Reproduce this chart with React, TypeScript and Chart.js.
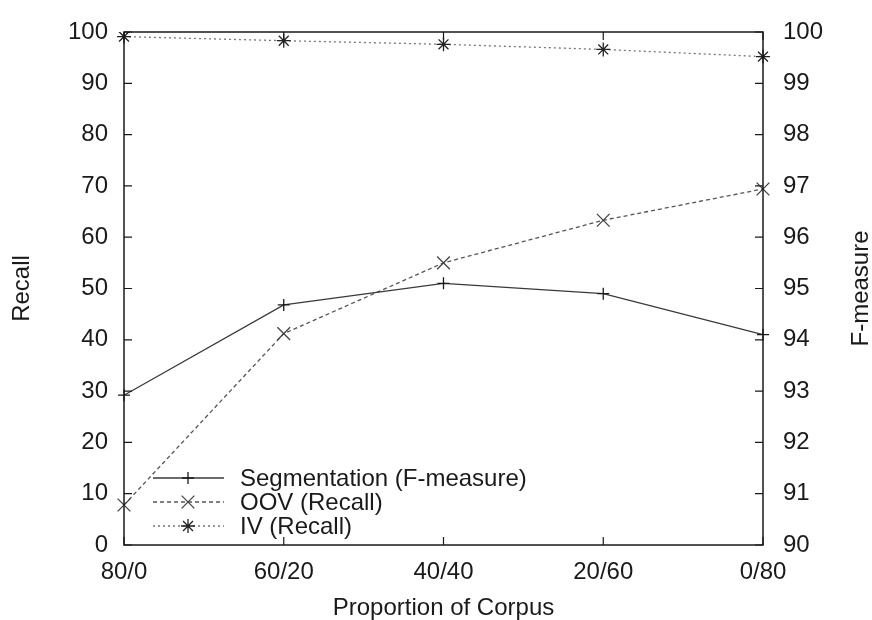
import React, { useEffect, useRef } from "react";
import { Chart, registerables } from "chart.js";

Chart.register(...registerables);

const categories = ["80/0", "60/20", "40/40", "20/60", "0/80"];
const segmentation = [92.92, 94.68, 95.1, 94.9, 94.1];
const oovRecall = [7.8, 41.2, 55.0, 63.3, 69.4];
const ivRecall = [99.1, 98.3, 97.6, 96.6, 95.2];
const seriesNames = ["Segmentation (F-measure)", "OOV (Recall)", "IV (Recall)"];
const leftTicks = [0, 10, 20, 30, 40, 50, 60, 70, 80, 90, 100];
const rightTicks = [90, 91, 92, 93, 94, 95, 96, 97, 98, 99, 100];

const FONT = "'Liberation Sans', Arial, sans-serif";
const TEXT = "#1a1a1a";

const framePlugin = {
  id: "frame",
  afterDatasetsDraw(chart: any) {
    const { ctx, chartArea } = chart;
    const { left, right, top, bottom } = chartArea;
    const x = chart.scales.x;
    const y = chart.scales.y;
    const y1 = chart.scales.y1;
    ctx.save();
    ctx.strokeStyle = "#1a1a1a";
    ctx.lineWidth = 1.5;
    ctx.setLineDash([]);
    ctx.strokeRect(left, top, right - left, bottom - top);
    ctx.lineWidth = 1.2;
    const tl = 8;
    ctx.beginPath();
    leftTicks.forEach((v) => {
      const py = y.getPixelForValue(v);
      ctx.moveTo(left, py);
      ctx.lineTo(left + tl, py);
    });
    rightTicks.forEach((v) => {
      const py = y1.getPixelForValue(v);
      ctx.moveTo(right, py);
      ctx.lineTo(right - tl, py);
    });
    categories.forEach((_, i) => {
      const px = x.getPixelForValue(i);
      ctx.moveTo(px, top);
      ctx.lineTo(px, top + tl);
      ctx.moveTo(px, bottom);
      ctx.lineTo(px, bottom - tl);
    });
    ctx.stroke();
    ctx.restore();
  },
  afterDraw(chart: any) {
    const { ctx, chartArea } = chart;
    ctx.save();
    // right axis title
    ctx.fillStyle = TEXT;
    ctx.font = `24px ${FONT}`;
    ctx.textAlign = "center";
    ctx.textBaseline = "middle";
    ctx.translate(861, (chartArea.top + chartArea.bottom) / 2);
    ctx.rotate(-Math.PI / 2);
    ctx.fillText("F-measure", 0, 0);
    ctx.restore();

    // legend
    const rows = [478, 502, 526];
    const x0 = 153;
    const x1 = 224;
    const xm = 188;
    chart.data.datasets.forEach((ds: any, i: number) => {
      const yy = rows[i];
      ctx.save();
      ctx.strokeStyle = ds.borderColor;
      ctx.lineWidth = ds.borderWidth;
      ctx.setLineDash(ds.borderDash || []);
      ctx.beginPath();
      ctx.moveTo(x0, yy);
      ctx.lineTo(x1, yy);
      ctx.stroke();
      ctx.setLineDash([]);
      ctx.strokeStyle = ds.pointBorderColor;
      ctx.lineWidth = ds.pointBorderWidth;
      const r = ds.pointRadius;
      ctx.beginPath();
      const style = ds.pointStyle;
      if (style === "cross" || style === "star") {
        ctx.moveTo(xm - r, yy);
        ctx.lineTo(xm + r, yy);
        ctx.moveTo(xm, yy - r);
        ctx.lineTo(xm, yy + r);
      }
      if (style === "crossRot" || style === "star") {
        const o = Math.cos(Math.PI / 4) * r;
        ctx.moveTo(xm - o, yy - o);
        ctx.lineTo(xm + o, yy + o);
        ctx.moveTo(xm - o, yy + o);
        ctx.lineTo(xm + o, yy - o);
      }
      ctx.stroke();
      ctx.fillStyle = TEXT;
      ctx.font = `24px ${FONT}`;
      ctx.textAlign = "left";
      ctx.textBaseline = "middle";
      ctx.fillText(seriesNames[i], 240, yy + 1);
      ctx.restore();
    });
  },
};

export default function App() {
  const canvasRef = useRef<HTMLCanvasElement | null>(null);

  useEffect(() => {
    if (!canvasRef.current) return;
    const chart = new Chart(canvasRef.current, {
      type: "line",
      data: {
        labels: categories,
        datasets: [
          {
            label: seriesNames[0],
            data: segmentation,
            yAxisID: "y1",
            borderColor: "#3a3a3a",
            borderWidth: 1.3,
            pointStyle: "cross",
            pointRadius: 6,
            pointBorderColor: "#1a1a1a",
            pointBorderWidth: 1.3,
            fill: false,
            tension: 0,
          } as any,
          {
            label: seriesNames[1],
            data: oovRecall,
            yAxisID: "y",
            borderColor: "#555555",
            borderWidth: 1.3,
            borderDash: [4, 3],
            pointStyle: "crossRot",
            pointRadius: 9,
            pointBorderColor: "#444444",
            pointBorderWidth: 1.3,
            fill: false,
            tension: 0,
          },
          {
            label: seriesNames[2],
            data: ivRecall,
            yAxisID: "y",
            borderColor: "#777777",
            borderWidth: 1.3,
            borderDash: [2, 3],
            pointStyle: "star",
            pointRadius: 7,
            pointBorderColor: "#222222",
            pointBorderWidth: 1.3,
            fill: false,
            tension: 0,
          },
        ],
      },
      options: {
        animation: false,
        responsive: true,
        maintainAspectRatio: false,
        layout: { padding: { top: 28, left: 0, right: 0, bottom: 0 } },
        plugins: {
          legend: { display: false },
          tooltip: { enabled: false },
        },
        scales: {
          x: {
            type: "category",
            offset: false,
            grid: { display: false, drawTicks: false },
            border: { display: false },
            ticks: {
              color: TEXT,
              font: { family: FONT, size: 24, lineHeight: 1 },
              padding: 15,
              maxRotation: 0,
              autoSkip: false,
            },
            title: {
              display: true,
              text: "Proportion of Corpus",
              color: TEXT,
              font: { family: FONT, size: 24, lineHeight: 1 },
              padding: 0,
            },
            afterFit: (s: any) => {
              s.height = 75;
            },
          },
          y: {
            position: "left",
            min: 0,
            max: 100,
            grid: { display: false, drawTicks: false },
            border: { display: false },
            ticks: {
              stepSize: 10,
              color: TEXT,
              font: { family: FONT, size: 24, lineHeight: 1 },
              padding: 16,
            },
            title: {
              display: true,
              text: "Recall",
              color: TEXT,
              font: { family: FONT, size: 24, lineHeight: 1 },
              padding: { top: 10, bottom: 0 },
            },
            afterFit: (s: any) => {
              s.width = 124;
            },
          },
          y1: {
            position: "right",
            min: 90,
            max: 100,
            grid: { display: false, drawTicks: false },
            border: { display: false },
            ticks: {
              stepSize: 1,
              color: TEXT,
              font: { family: FONT, size: 24, lineHeight: 1 },
              padding: 20,
            },
            afterFit: (s: any) => {
              s.width = 109;
            },
          },
        },
      } as any,
      plugins: [framePlugin],
    });
    return () => chart.destroy();
  }, []);

  return (
    <div style={{ position: "absolute", left: 0, top: 0, width: 872, height: 620, background: "#fff" }}>
      <canvas ref={canvasRef} />
    </div>
  );
}
